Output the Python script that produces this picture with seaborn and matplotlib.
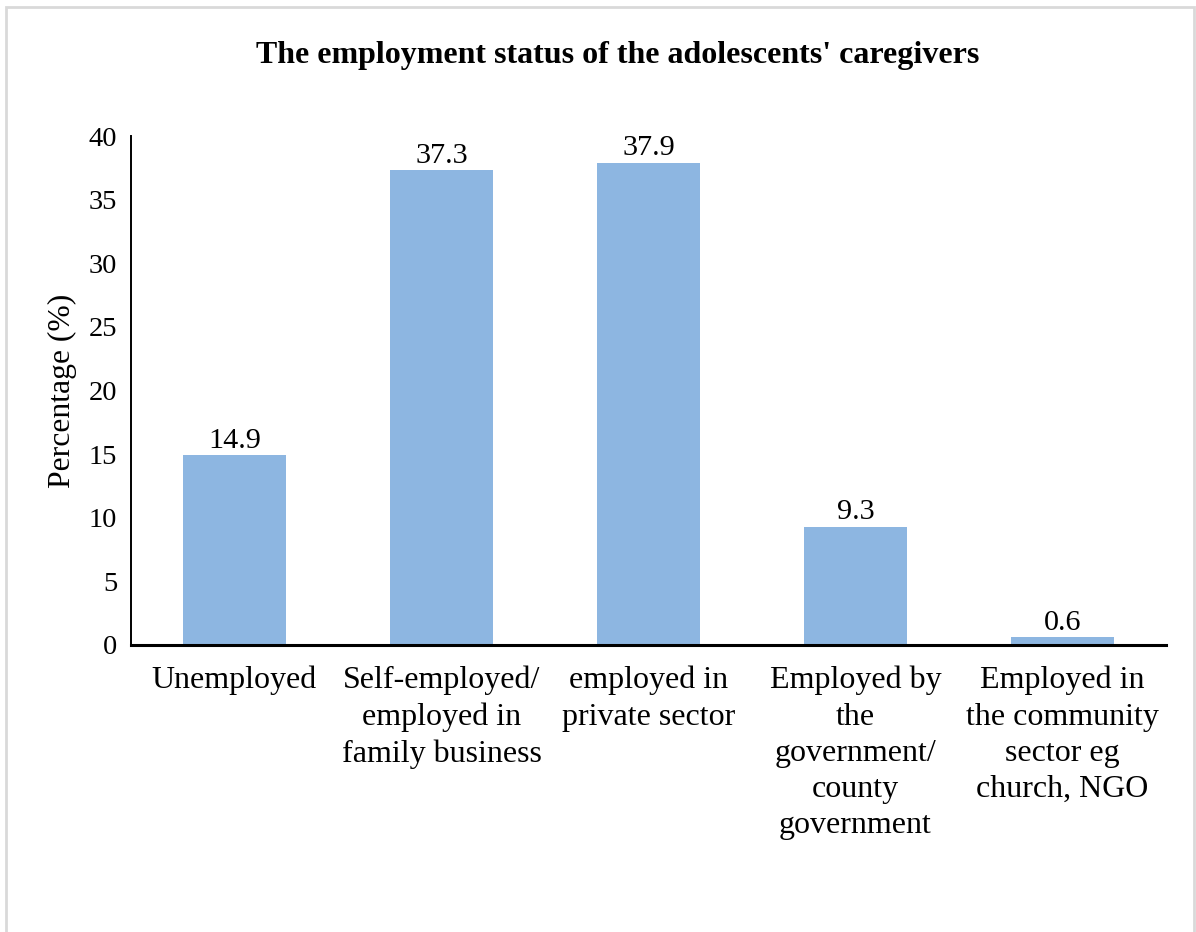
import matplotlib
matplotlib.use("Agg")
import matplotlib.pyplot as plt
from matplotlib.patches import Rectangle
import pandas as pd
import seaborn as sns

# Employment status categories (wrapped as printed under the axis)
categories = [
    "Unemployed",
    "Self-employed/\nemployed in\nfamily business",
    "employed in\nprivate sector",
    "Employed by\nthe\ngovernment/\ncounty\ngovernment",
    "Employed in\nthe community\nsector eg\nchurch, NGO",
]
percentages = [14.9, 37.3, 37.9, 9.3, 0.6]
y_ticks = [0, 5, 10, 15, 20, 25, 30, 35, 40]

title = "The employment status of the adolescents' caregivers"
y_label = "Percentage (%)"

sns.set_style("white")
plt.rcParams["font.family"] = ["Liberation Serif", "DejaVu Serif"]
plt.rcParams["text.color"] = "black"
plt.rcParams["axes.labelcolor"] = "black"
plt.rcParams["xtick.color"] = "black"
plt.rcParams["ytick.color"] = "black"

df = pd.DataFrame({"status": categories, "pct": percentages})

W, H = 1196, 932
fig = plt.figure(figsize=(W / 100, H / 100), dpi=100)
ax = fig.add_axes([131 / W, 1 - 645 / H, (1166 - 131) / W, (645 - 136) / H])

sns.barplot(data=df, x="status", y="pct", color="#8DB6E1", saturation=1,
            width=0.5, ax=ax, edgecolor="none")

ax.set_ylim(0, 40)
ax.set_xlim(-0.5, len(categories) - 0.5)
ax.set_yticks(y_ticks)
ax.set_yticklabels([str(t) for t in y_ticks], fontsize=20.5)
ax.set_xticks(range(len(categories)))
ax.set_xticklabels(categories, fontsize=23, ha="center", linespacing=1.33)
ax.tick_params(axis="y", length=0, pad=10)
ax.tick_params(axis="x", length=0, pad=15)

ax.set_xlabel("")
ax.set_ylabel(y_label, fontsize=22.8)
ax.yaxis.label.set(rotation_mode="default", ha="center", va="center")
ax.yaxis.set_label_coords((62 - 131) / 1035, 0.5)

for side in ("top", "right"):
    ax.spines[side].set_visible(False)
ax.spines["left"].set_linewidth(1.4)
ax.spines["left"].set_color("black")
ax.spines["bottom"].set_linewidth(2.2)
ax.spines["bottom"].set_color("black")

ax.bar_label(ax.containers[0], labels=[f"{v:.1f}" for v in percentages],
             padding=1, fontsize=21.7)

fig.text(618 / W, 1 - 55 / H, title, ha="center", va="center",
         fontsize=23, fontweight="bold")

# light outer frame of the chart area
fig.patches.append(Rectangle((6 / W, -0.05), (1194 - 6) / W, 1.05 - 7 / H,
                             transform=fig.transFigure, fill=False,
                             edgecolor="#D9D9D9", linewidth=2))

fig.savefig("out.png", dpi=100)
